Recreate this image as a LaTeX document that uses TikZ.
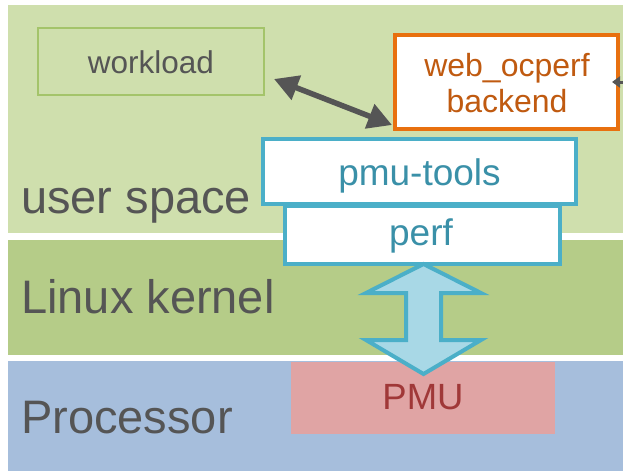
\documentclass[tikz,border=0pt]{standalone}
\usepackage{fontspec}
\setmainfont{Liberation Sans}
\usetikzlibrary{arrows.meta,calc}
\definecolor{usband}{RGB}{207,223,173}
\definecolor{lkband}{RGB}{181,204,136}
\definecolor{prband}{RGB}{166,190,220}
\definecolor{pmufill}{RGB}{224,164,164}
\definecolor{pmutext}{RGB}{160,56,56}
\definecolor{graytext}{RGB}{85,85,85}
\definecolor{wlborder}{RGB}{164,196,106}
\definecolor{orborder}{RGB}{232,112,15}
\definecolor{ortext}{RGB}{192,90,16}
\definecolor{tlborder}{RGB}{75,175,200}
\definecolor{tltext}{RGB}{58,144,168}
\definecolor{arrfill}{RGB}{168,216,230}
\definecolor{darkarr}{RGB}{85,85,85}
\tikzset{
  band/.style={fill, draw=none, inner sep=0, outer sep=0, anchor=north west},
  laytext/.style={text=graytext, anchor=base west, inner sep=0, font=\fontsize{47}{50}\selectfont},
  boxtext/.style={anchor=base, inner sep=0},
  toolbox/.style={draw=tlborder, line width=4pt, fill=white, inner sep=0},
}
\begin{document}
\begin{tikzpicture}[x=1pt,y=-1pt]
\useasboundingbox (0,0) rectangle (623,471);
\fill[white] (0,0) rectangle (623,471);
% bands
\node[band, fill=usband, minimum width=615pt, minimum height=228pt] (us) at (8,5) {};
\node[band, fill=lkband, minimum width=615pt, minimum height=115pt] (lk) at (8,240) {};
\node[band, fill=prband, minimum width=615pt, minimum height=110pt] (pr) at (8,361) {};
\node[laytext] (ustxt) at (21,213) {user space};
\node[laytext] (lktxt) at (21,313) {Linux kernel};
\node[laytext] (prtxt) at (21,433) {Processor};
% PMU
\node[fill=pmufill, inner sep=0, minimum width=264pt, minimum height=72pt] (pmu) at (423,398) {};
\node[boxtext, text=pmutext, font=\fontsize{36.5}{40}\selectfont] (pmutxt) at (423,409) {PMU};
% workload
\node[draw=wlborder, line width=2pt, inner sep=0, minimum width=226pt, minimum height=67pt] (work) at (151,61.5) {};
\node[boxtext, text=graytext, font=\fontsize{31.5}{34}\selectfont] (worktxt) at (151,73) {workload};
% web_ocperf
\node[draw=orborder, line width=4pt, fill=white, inner sep=0, minimum width=223pt, minimum height=94pt] (web) at (506.5,82) {};
\node[boxtext, text=ortext, font=\fontsize{32}{36}\selectfont] (webtxt1) at (507,76) {web\_ocperf};
\node[boxtext, text=ortext, font=\fontsize{32}{36}\selectfont] (webtxt2) at (507,112) {backend};
% perf & pmu-tools
\node[toolbox, minimum width=275pt, minimum height=58pt] (perf) at (422.5,235) {};
\node[toolbox, minimum width=313pt, minimum height=65pt] (pmut) at (419.5,171.5) {};
\node[boxtext, text=tltext, font=\fontsize{37}{40}\selectfont] (pmuttxt) at (419.5,185) {pmu-tools};
\node[boxtext, text=tltext, font=\fontsize{37}{40}\selectfont] (perftxt) at (421,245) {perf};
% dark double arrow
\draw[darkarr, line width=5.5pt, {Triangle[width=25pt,length=24pt]}-{Triangle[width=25pt,length=24pt]}]
  ($(work.east)+(9,17.5)$) -- ($(web.south west)+(-1,-6)$);
% small arrow tip at right edge
\coordinate (offright) at (660,82);
\draw[darkarr, line width=3pt, -{Triangle[width=11pt,length=8pt]}] (offright) -- ($(web.east)+(-8,0)$);
% big double arrow between perf and PMU
\draw[draw=tlborder, fill=arrfill, line width=4pt, line join=miter]
  ($(perf.south)+(1,-2)$) -- (481,293) -- (441,293) -- (441,340) -- (481,340)
  -- (423.5,374) -- (366,340) -- (406,340) -- (406,293) -- (366,293) -- cycle;
\end{tikzpicture}
\end{document}
